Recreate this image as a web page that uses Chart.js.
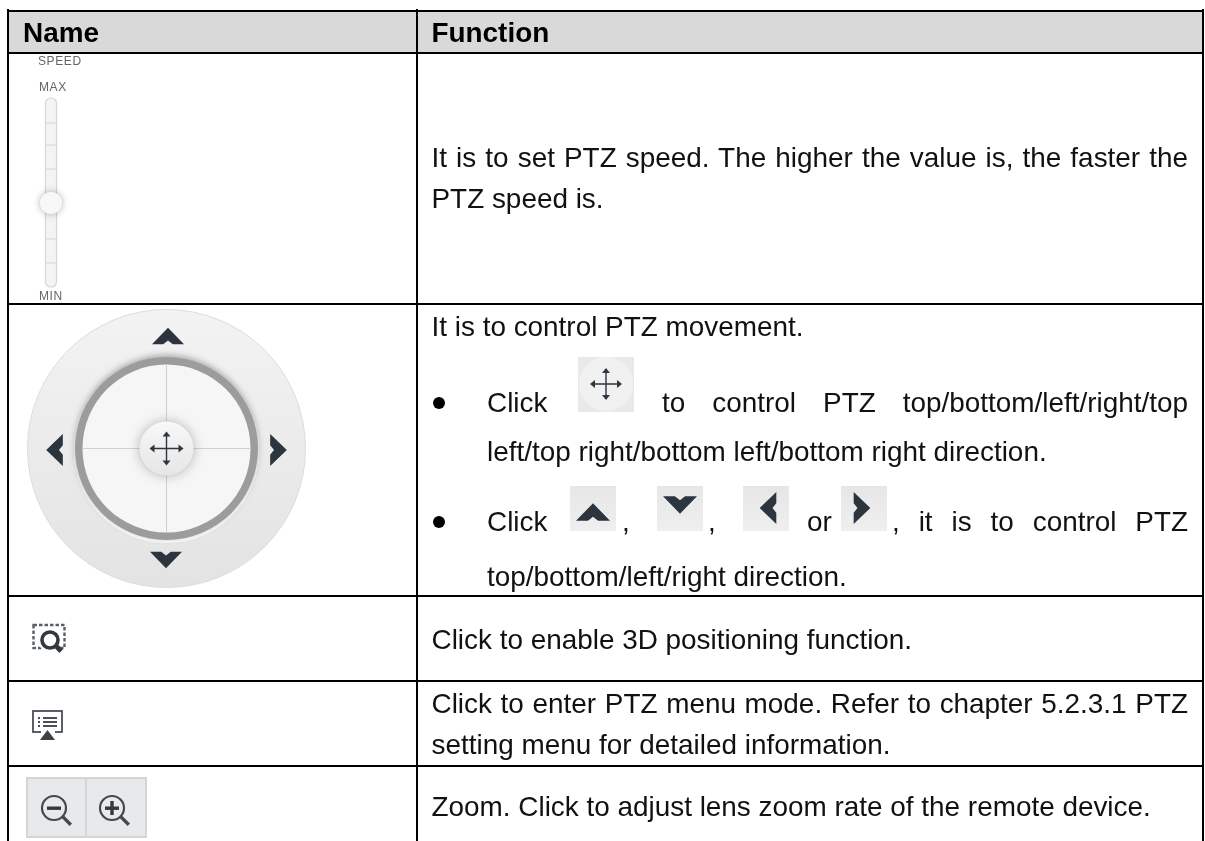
<!DOCTYPE html>
<html>
<head>
<meta charset="utf-8">
<title>PTZ controls</title>
<script src="https://cdn.jsdelivr.net/npm/chart.js@4/dist/chart.umd.min.js"></script>
<style>
  html, body { margin: 0; padding: 0; background: #fff; overflow: hidden; }
  #wrap { position: relative; width: 1205px; height: 841px; }
  canvas { position: absolute; left: 0; top: 0; }
  .t {
    position: absolute;
    font-family: "Liberation Sans", Arial, sans-serif;
    font-size: 27.9px;
    line-height: 32px;
    color: #111;
    white-space: nowrap;
    filter: blur(.3px);
  }
  .j { text-align: justify; text-align-last: justify; white-space: normal; }
  .b { font-weight: bold; color: #000; }
  .s { font-size: 12px; line-height: 12px; letter-spacing: .6px; color: #666; filter: blur(.7px); }
</style>
</head>
<body>
<div id="wrap"><canvas id="table" width="1205" height="841"></canvas></div>
<script>
'use strict';

// table rules, these go on the chart axes as ticks
let columnEdges = [8, 417, 1203];
let rowEdges = [10.5, 52.5, 304, 595.5, 680.5, 766];

let headers = ['Name', 'Function'];
let sliderLabels = ['SPEED', 'MAX', 'MIN'];
let functionText = [
  'It is to set PTZ speed. The higher the value is, the faster the',
  'PTZ speed is.',
  'It is to control PTZ movement.',
  'Click',
  'to control PTZ top/bottom/left/right/top',
  'left/top right/bottom left/bottom right direction.',
  'Click',
  ',',
  ',',
  'or',
  ', it is to control PTZ',
  'top/bottom/left/right direction.',
  'Click to enable 3D positioning function.',
  'Click to enter PTZ menu mode. Refer to chapter 5.2.3.1 PTZ',
  'setting menu for detailed information.',
  'Zoom. Click to adjust lens zoom rate of the remote device.',
];

// x, baseline, right edge (0 = not justified)
let textSpots = [
  [431.5, 167, 1188], [431.5, 208, 0], [431.5, 336, 0],
  [487, 412, 0], [662, 412, 1188], [487, 461, 0],
  [487, 531, 0], [622, 531, 0], [708, 531, 0], [807, 531, 0], [892, 531, 1188],
  [487, 586, 0], [431.5, 649, 0], [431.5, 713, 1188], [431.5, 754, 0], [431.5, 816, 0],
];

const wrap = document.getElementById('wrap');

function addText(str, cls, x, baseline, right) {
  let el = document.createElement('div');
  el.className = cls;
  el.textContent = str;
  el.style.left = x + 'px';
  el.style.top = baseline - 25.4 + 'px';
  if (right) {
    el.className += ' j';
    el.style.width = right - x + 'px';
  }
  wrap.appendChild(el);
}

addText(headers[0], 't b', 23, 42);
addText(headers[1], 't b', 431.5, 42);
for (let i = 0; i < functionText.length; i++) {
  addText(functionText[i], 't', textSpots[i][0], textSpots[i][1], textSpots[i][2]);
}

function smallLabel(str, x, y) {
  let el = document.createElement('div');
  el.className = 't s';
  el.textContent = str;
  el.style.left = x + 'px';
  el.style.top = y + 'px';
  wrap.appendChild(el);
}
smallLabel(sliderLabels[0], 38, 55);
smallLabel(sliderLabels[1], 39, 81);
smallLabel(sliderLabels[2], 39, 290);

function circle(ctx, x, y, r) {
  ctx.beginPath();
  ctx.arc(x, y, r, 0, Math.PI * 2);
}

function poly(ctx, pts, color) {
  ctx.fillStyle = color;
  ctx.beginPath();
  pts.forEach((p, i) => (i ? ctx.lineTo(p[0], p[1]) : ctx.moveTo(p[0], p[1])));
  ctx.closePath();
  ctx.fill();
}

// chevron pointing up, dir turns it; size is half the width
function chevron(ctx, x, y, size, dir, color) {
  ctx.save();
  ctx.translate(x, y);
  ctx.rotate((dir * Math.PI) / 2);
  poly(ctx, [[-size, size * 0.52], [0, -size * 0.52], [size, size * 0.52], [size * 0.3, size * 0.52], [0, size * 0.28], [-size * 0.3, size * 0.52]], color);
  ctx.restore();
}

function moveCross(ctx, x, y, s) {
  ctx.strokeStyle = '#2e3640';
  ctx.lineWidth = 1.4;
  ctx.beginPath();
  ctx.moveTo(x - s, y); ctx.lineTo(x + s, y);
  ctx.moveTo(x, y - s); ctx.lineTo(x, y + s);
  ctx.stroke();
  for (let d = 0; d < 4; d++) {
    ctx.save();
    ctx.translate(x, y);
    ctx.rotate((d * Math.PI) / 2);
    poly(ctx, [[0, -s - 2], [-4, -s + 3], [4, -s + 3]], '#2e3640');
    ctx.restore();
  }
}

function drawSlider(ctx) {
  ctx.strokeStyle = '#d4d6d6';
  ctx.fillStyle = '#f3f4f4';
  ctx.lineWidth = 1.2;
  ctx.beginPath();
  ctx.roundRect(45.5, 98, 11, 189, 5);
  ctx.fill();
  ctx.stroke();
  ctx.beginPath();
  [123, 145, 169, 239, 263].forEach((y) => {
    ctx.moveTo(46, y);
    ctx.lineTo(56, y);
  });
  ctx.stroke();
  ctx.save();
  ctx.shadowColor = 'rgba(0,0,0,.3)';
  ctx.shadowBlur = 7;
  ctx.fillStyle = '#f8f8f8';
  circle(ctx, 51, 203, 11);
  ctx.fill();
  ctx.restore();
}

function drawWheel(ctx) {
  let cx = 166.5, cy = 448.5;
  let g = ctx.createLinearGradient(0, 310, 0, 589);
  g.addColorStop(0, '#f3f3f3');
  g.addColorStop(1, '#e3e3e3');
  ctx.fillStyle = g;
  circle(ctx, cx, cy, 139);
  ctx.fill();
  ctx.strokeStyle = '#dcdcdc';
  ctx.lineWidth = 1;
  ctx.stroke();
  // white rim under the ring
  ctx.fillStyle = '#fbfbfb';
  circle(ctx, cx, cy + 1.5, 93);
  ctx.fill();
  ctx.save();
  ctx.shadowColor = 'rgba(0,0,0,.3)';
  ctx.shadowBlur = 6;
  ctx.shadowOffsetY = -2;
  ctx.fillStyle = '#9b9d9c';
  circle(ctx, cx, cy, 91.5);
  ctx.fill();
  ctx.restore();
  ctx.fillStyle = '#f6f6f6';
  circle(ctx, cx, cy, 84);
  ctx.fill();
  ctx.strokeStyle = '#ccd1d8';
  ctx.lineWidth = 1;
  ctx.beginPath();
  ctx.moveTo(cx - 84, cy); ctx.lineTo(cx + 84, cy);
  ctx.moveTo(cx, cy - 84); ctx.lineTo(cx, cy + 84);
  ctx.stroke();
  ctx.save();
  ctx.shadowColor = 'rgba(0,0,0,.28)';
  ctx.shadowBlur = 12;
  let k = ctx.createLinearGradient(0, cy - 27, 0, cy + 27);
  k.addColorStop(0, '#f8f8f8');
  k.addColorStop(1, '#e6e6e6');
  ctx.fillStyle = k;
  circle(ctx, cx, cy, 27);
  ctx.fill();
  ctx.restore();
  moveCross(ctx, cx, cy, 15);
  chevron(ctx, cx + 1.5, 336, 16, 0, '#2c343d');
  chevron(ctx, cx - 0.5, 560, 16, 2, '#2c343d');
  chevron(ctx, 54.5, 450, 16, 3, '#2c343d');
  chevron(ctx, 278.5, 450, 16, 1, '#2c343d');
}

function drawInlineIcons(ctx) {
  // small cross in the text
  ctx.fillStyle = '#e9e9e9';
  ctx.fillRect(578, 357, 56, 55);
  ctx.fillStyle = '#f1f1f1';
  circle(ctx, 606, 384, 27);
  ctx.fill();
  moveCross(ctx, 606, 384, 14);
  // four arrow buttons
  [[570, 0], [657, 2], [743, 3], [841, 1]].forEach((b) => {
    let g = ctx.createLinearGradient(0, 486, 0, 531);
    g.addColorStop(0, '#e6e6e6');
    g.addColorStop(1, '#efefef');
    ctx.fillStyle = g;
    ctx.fillRect(b[0], 486, 46, 45);
    if (b[1] === 0) chevron(ctx, b[0] + 23, 512, 17, 0, '#2c343d');
    if (b[1] === 2) chevron(ctx, b[0] + 23, 505, 17, 2, '#2c343d');
    if (b[1] === 3) chevron(ctx, b[0] + 25, 508, 16, 3, '#2c343d');
    if (b[1] === 1) chevron(ctx, b[0] + 21, 508, 16, 1, '#2c343d');
  });
  // bullets
  ctx.fillStyle = '#000';
  circle(ctx, 439, 403, 6);
  ctx.fill();
  circle(ctx, 439, 522, 6);
  ctx.fill();
}

function magnifier(ctx, x, y, r, color, lw) {
  ctx.strokeStyle = color;
  ctx.lineWidth = lw;
  circle(ctx, x, y, r);
  ctx.stroke();
  ctx.lineWidth = lw + 1.2;
  ctx.beginPath();
  ctx.moveTo(x + r * 0.72, y + r * 0.72);
  ctx.lineTo(x + r * 1.4, y + r * 1.4);
  ctx.stroke();
}

function drawSmallIcons(ctx) {
  // 3D box
  ctx.strokeStyle = '#5a5f65';
  ctx.lineWidth = 2.4;
  ctx.setLineDash([3.5, 2]);
  ctx.strokeRect(33.5, 625, 31, 23);
  ctx.setLineDash([]);
  ctx.fillStyle = '#fff';
  circle(ctx, 50, 640, 12);
  ctx.fill();
  magnifier(ctx, 50, 640, 8, '#33383e', 3.6);

  // menu screen
  ctx.strokeStyle = '#4a4f55';
  ctx.lineWidth = 1.8;
  ctx.strokeRect(33, 711, 29, 21);
  ctx.fillStyle = '#4a4f55';
  [717, 721, 725].forEach((y) => {
    ctx.fillRect(38, y, 2, 2);
    ctx.fillRect(43, y, 14, 2);
  });
  ctx.fillStyle = '#fff';
  ctx.fillRect(41, 729, 14, 4);
  poly(ctx, [[40, 740], [47.5, 730], [55, 740]], '#3c4248');

  // zoom buttons
  ctx.fillStyle = '#e8e9eb';
  ctx.fillRect(26, 777, 121, 61);
  ctx.strokeStyle = '#d4d5d5';
  ctx.lineWidth = 2;
  ctx.strokeRect(27, 778, 119, 59);
  ctx.beginPath();
  ctx.moveTo(86, 778);
  ctx.lineTo(86, 837);
  ctx.stroke();
  magnifier(ctx, 54, 808, 12, '#45494e', 2.2);
  magnifier(ctx, 112, 808, 12, '#45494e', 2.2);
  ctx.fillStyle = '#33383e';
  ctx.fillRect(47, 806.5, 14, 3.4);
  ctx.fillRect(105, 806.5, 14, 3.4);
  ctx.fillRect(110.3, 801, 3.4, 14);
}

const tablePlugin = {
  id: 'tablePlugin',
  beforeDraw(chart) {
    let ctx = chart.ctx;
    let x = chart.scales.x;
    let y = chart.scales.y;
    ctx.fillStyle = '#d9d9d9';
    ctx.fillRect(x.getPixelForValue(columnEdges[0]), y.getPixelForValue(rowEdges[0]),
      x.getPixelForValue(columnEdges[2]) - x.getPixelForValue(columnEdges[0]),
      y.getPixelForValue(rowEdges[1]) - y.getPixelForValue(rowEdges[0]));
  },
  afterDraw(chart) {
    let ctx = chart.ctx;
    ctx.save();
    ctx.filter = 'blur(0.6px)';
    drawSlider(ctx);
    drawWheel(ctx);
    drawInlineIcons(ctx);
    drawSmallIcons(ctx);
    ctx.restore();
  },
};

function gridAxis(edges, min, max, reverse) {
  return {
    type: 'linear',
    min: min,
    max: max,
    reverse: reverse,
    afterBuildTicks(axis) {
      axis.ticks = edges.map((v) => ({ value: v }));
    },
    ticks: { display: false, autoSkip: false },
    border: { display: false },
    grid: { color: '#000', lineWidth: 2, drawTicks: false, drawOnChartArea: true },
  };
}

const tableChart = new Chart(document.getElementById('table'), {
  type: 'scatter',
  data: { datasets: [{ data: [] }] },
  options: {
    responsive: false,
    animation: false,
    events: [],
    layout: { padding: { left: 7, top: 9, right: 1, bottom: 0 } },
    plugins: { legend: { display: false }, tooltip: { enabled: false } },
    scales: {
      x: gridAxis(columnEdges, 7, 1204, false),
      y: gridAxis(rowEdges, 9, 841, true),
    },
  },
  plugins: [tablePlugin],
});
</script>
</body>
</html>
